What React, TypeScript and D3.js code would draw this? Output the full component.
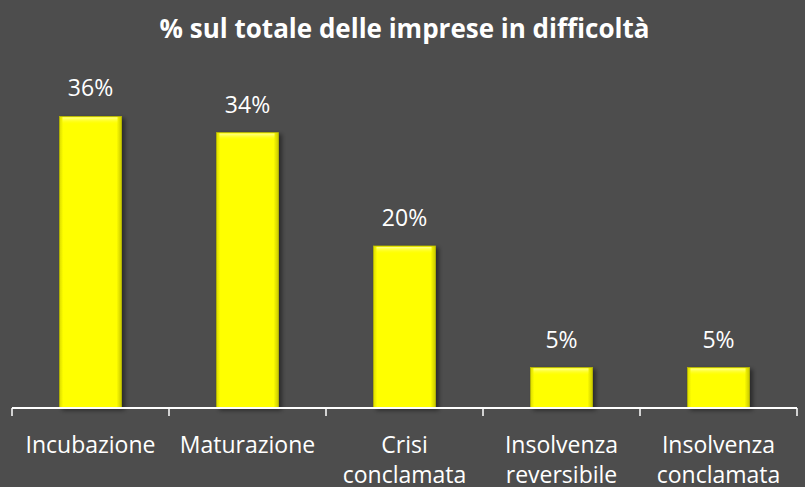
import { useEffect, useRef } from "react";
import * as d3 from "d3";

const categories = ["Incubazione", "Maturazione", "Crisi\nconclamata", "Insolvenza\nreversibile", "Insolvenza\nconclamata"];
const values = [36, 34, 20, 5, 5];
const valueLabels = ["36%", "34%", "20%", "5%", "5%"];
const title = "% sul totale delle imprese in difficoltà";

const W = 805;
const H = 487;
const margin = { top: 84, right: 8, bottom: 79, left: 12 };
const font = "'Open Sans', 'Noto Sans', sans-serif";

export default function App() {
  const ref = useRef<SVGSVGElement>(null);

  useEffect(() => {
    const svg = d3.select(ref.current);
    svg.selectAll("*").remove();

    const x = d3.scaleBand<number>()
      .domain(d3.range(categories.length))
      .range([margin.left, W - margin.right])
      .paddingInner(0)
      .paddingOuter(0);
    const y = d3.scaleLinear().domain([0, 40]).range([H - margin.bottom, margin.top]);
    const bw = x.bandwidth() * 0.395;

    svg.append("rect").attr("width", W).attr("height", H).attr("fill", "#4d4d4d");

    const defs = svg.append("defs");
    const gh = defs.append("linearGradient").attr("id", "gh").attr("x1", 0).attr("x2", 1).attr("y1", 0).attr("y2", 0);
    gh.append("stop").attr("offset", "0").attr("stop-color", "#dcdc00");
    gh.append("stop").attr("offset", "0.06").attr("stop-color", "#ffff00");
    gh.append("stop").attr("offset", "0.92").attr("stop-color", "#ffff00");
    gh.append("stop").attr("offset", "1").attr("stop-color", "#c8c800");
    const gv = defs.append("linearGradient").attr("id", "gv").attr("x1", 0).attr("x2", 0).attr("y1", 0).attr("y2", 1);
    gv.append("stop").attr("offset", "0").attr("stop-color", "#ffffa0").attr("stop-opacity", 0.9);
    gv.append("stop").attr("offset", "1").attr("stop-color", "#ffff00").attr("stop-opacity", 0);
    const sh = defs.append("filter").attr("id", "sh").attr("x", "-20%").attr("y", "-20%").attr("width", "150%").attr("height", "150%");
    sh.append("feDropShadow").attr("dx", 3).attr("dy", 2).attr("stdDeviation", 2).attr("flood-color", "#000").attr("flood-opacity", 0.45);

    const bars = svg.append("g").selectAll("g").data(values).join("g");
    bars.append("rect")
      .attr("x", (_, i) => x(i)! + (x.bandwidth() - bw) / 2)
      .attr("y", (d) => y(d))
      .attr("width", bw)
      .attr("height", (d) => y(0) - y(d))
      .attr("fill", "url(#gh)")
      .attr("stroke", "#b8b800")
      .attr("stroke-width", 0.8)
      .attr("filter", "url(#sh)");
    bars.append("rect")
      .attr("x", (_, i) => x(i)! + (x.bandwidth() - bw) / 2 + 3)
      .attr("y", (d) => y(d) + 1)
      .attr("width", bw - 7)
      .attr("height", 7)
      .attr("fill", "url(#gv)");

    svg.append("g").selectAll("text").data(valueLabels).join("text")
      .attr("x", (_, i) => x(i)! + x.bandwidth() / 2)
      .attr("y", (_, i) => y(values[i]) - 20)
      .attr("text-anchor", "middle")
      .attr("fill", "#ffffff")
      .style("font", `23px ${font}`)
      .text((d) => d);

    const axisY = y(0);
    svg.append("line")
      .attr("x1", margin.left).attr("x2", W - margin.right)
      .attr("y1", axisY).attr("y2", axisY)
      .attr("stroke", "#ffffff").attr("stroke-width", 2);
    const tickXs = d3.range(categories.length + 1).map((i) => margin.left + i * x.step());
    svg.append("g").selectAll("line").data(tickXs).join("line")
      .attr("x1", (d) => d).attr("x2", (d) => d)
      .attr("y1", axisY).attr("y2", axisY + 8)
      .attr("stroke", "#ffffff").attr("stroke-width", 1.5);

    const lab = svg.append("g").selectAll("text").data(categories).join("text")
      .attr("text-anchor", "middle")
      .attr("fill", "#ffffff")
      .style("font", `23px ${font}`);
    lab.each(function (d, i) {
      const t = d3.select(this);
      d.split("\n").forEach((line, k) => {
        t.append("tspan")
          .attr("x", x(i)! + x.bandwidth() / 2)
          .attr("y", 453 + k * 30)
          .text(line);
      });
    });

    svg.append("text")
      .attr("x", W / 2 + 2)
      .attr("y", 38)
      .attr("text-anchor", "middle")
      .attr("fill", "#ffffff")
      .style("font", `bold 26px ${font}`)
      .text(title);
  }, []);

  return (
    <svg ref={ref} width={W} height={H} style={{ position: "absolute", left: 0, top: 0, display: "block" }} />
  );
}
